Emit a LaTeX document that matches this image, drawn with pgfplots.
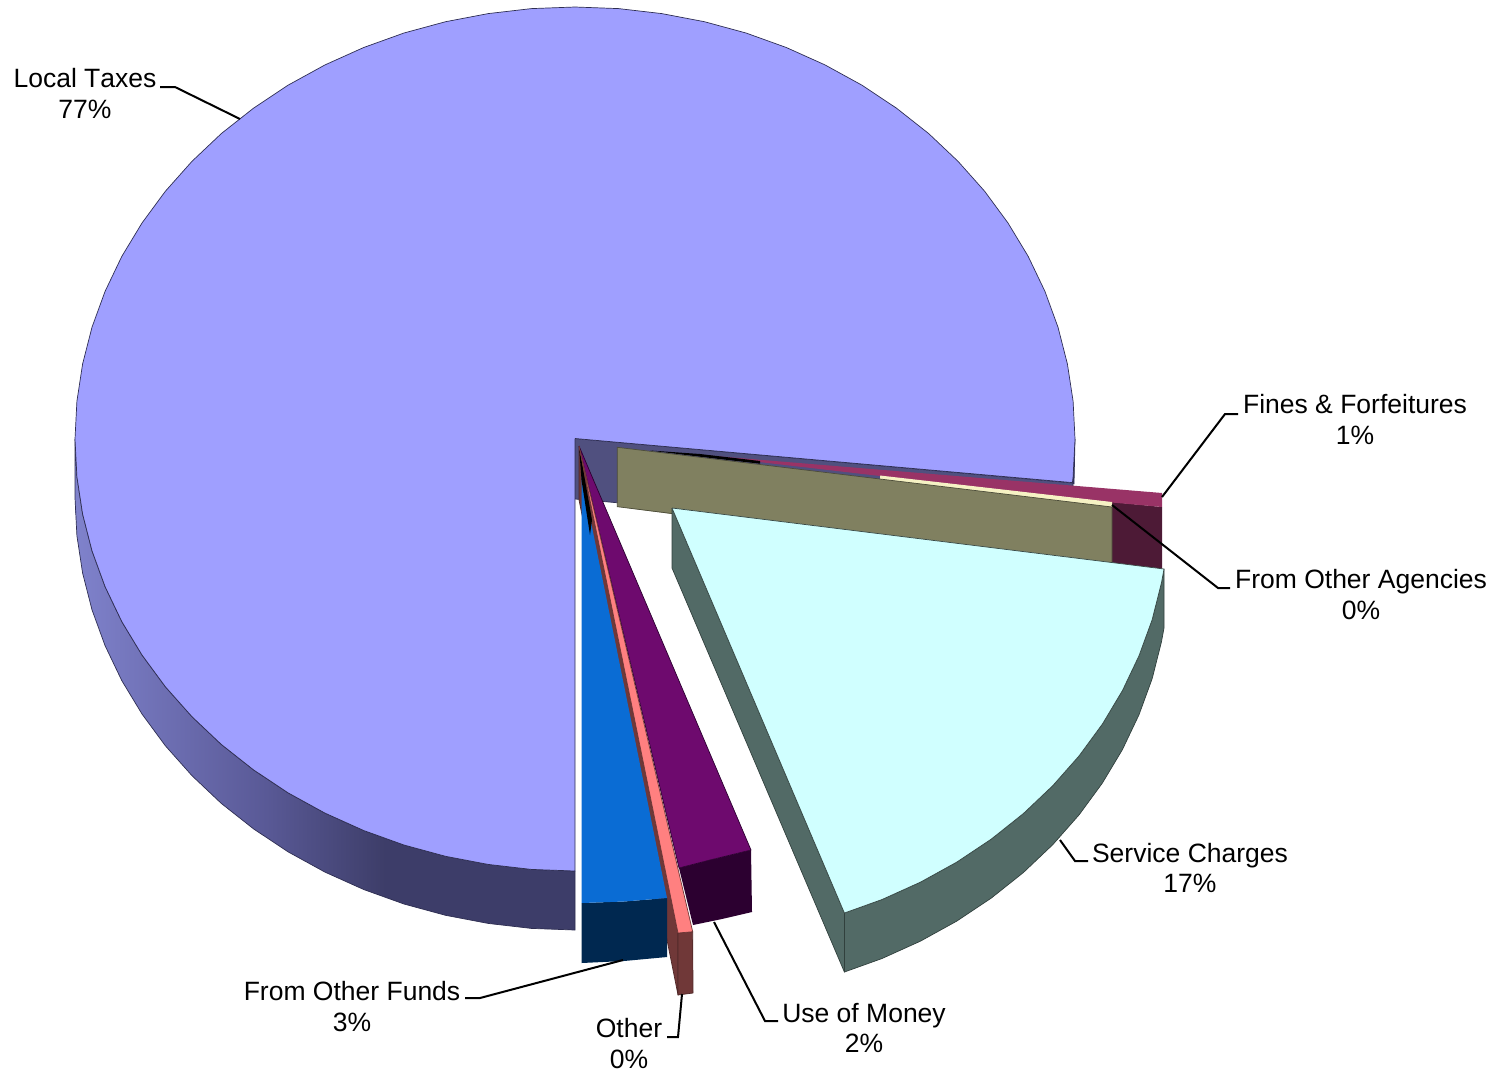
\documentclass[border=0pt]{standalone}
\usepackage{fontspec}
\setmainfont[Kerning=Off]{Liberation Sans}
\usepackage{pgfplots}
\pgfplotsset{compat=1.18}

\definecolor{taxtop}{HTML}{9F9FFF}
\definecolor{taxwall}{HTML}{50507F}
\definecolor{taxedge}{HTML}{2E2E52}
\definecolor{svctop}{HTML}{D0FFFF}
\definecolor{svcwall}{HTML}{526A66}
\definecolor{olive}{HTML}{808060}
\definecolor{finestop}{HTML}{993366}
\definecolor{fineswall}{HTML}{4D1A36}
\definecolor{cream}{HTML}{F6F2C4}
\definecolor{fundstop}{HTML}{0A6CD4}
\definecolor{fundswall}{HTML}{002850}
\definecolor{othertop}{HTML}{FF8080}
\definecolor{otherwall}{HTML}{703838}
\definecolor{moneytop}{HTML}{6E0A6E}
\definecolor{moneywall}{HTML}{2C0030}

\pgfdeclarehorizontalshading{taxside}{100bp}{
  rgb(0bp)=(.50,.51,.80); rgb(25bp)=(.50,.51,.80);
  rgb(44bp)=(.35,.35,.59); rgb(56bp)=(.24,.24,.41); rgb(100bp)=(.24,.24,.41)}

\tikzset{
  slice/.style={draw=#1, line width=0.35pt, line join=round},
  leader/.style={draw=black, line width=1pt, line join=miter},
  lab/.style={font=\fontsize{13.25}{15.3}\selectfont, align=center, anchor=center, inner sep=0pt},
}

\begin{document}
\begin{tikzpicture}
\useasboundingbox (0,0) rectangle (754pt,536pt);
\begin{axis}[
    at={(0,0)}, anchor=south west,
    scale only axis, width=754pt, height=536pt,
    xmin=0, xmax=1508, ymin=0, ymax=1072,
    y dir=reverse,
    hide axis, clip=false,
]

% Local Taxes: outer side
\addplot[shade, shading=taxside, slice=taxedge] coordinates {
(75,439)(76.9,476.7)(82.6,514)(92,550.8)(105.1,586.7)(121.8,621.6)(142,655)(165.4,686.8)
(192,716.7)(221.4,744.5)(253.6,769.9)(288.2,792.9)(325,813.1)(363.7,830.5)(404,845)
(445.6,856.3)(488.2,864.4)(531.4,869.4)(575,871)
(575,930)(531.4,928.4)(488.2,923.4)(445.6,915.3)(404,904)(363.7,889.5)(325,872.1)
(288.2,851.9)(253.6,828.9)(221.4,803.5)(192,775.7)(165.4,745.8)(142,714)(121.8,680.6)
(105.1,645.7)(92,609.8)(82.6,573)(76.9,535.7)(75,498)(75,439)};
\addplot[fill=taxwall!120!white, slice=taxedge] coordinates {
(1075,439)(1073.1,476.7)(1072.4,482.6)(1074,484)(1075,439)};
% Local Taxes: inner wall
\addplot[fill=taxwall, slice=taxedge] coordinates {
(575,438.5)(1073,483)(1073,543)(575,499)(575,438.5)};
% Local Taxes: top
\addplot[fill=taxtop, slice=taxedge] coordinates {
(575,438.5)(1072.4,482.6)(1073.1,476.7)(1075,439)(1073.1,401.3)(1067.4,364)(1058,327.2)
(1044.9,291.3)(1028.2,256.4)(1008,223)(984.6,191.2)(958,161.3)(928.6,133.5)(896.4,108.1)
(861.8,85.1)(825,64.9)(786.3,47.5)(746,33)(704.4,21.7)(661.8,13.6)(618.6,8.6)(575,7)
(531.4,8.6)(488.2,13.6)(445.6,21.7)(404,33)(363.7,47.5)(325,64.9)(288.2,85.1)(253.6,108.1)
(221.4,133.5)(192,161.3)(165.4,191.2)(142,223)(121.8,256.4)(105.1,291.3)(92,327.2)(82.6,364)
(76.9,401.3)(75,439)(76.9,476.7)(82.6,514)(92,550.8)(105.1,586.7)(121.8,621.6)(142,655)
(165.4,686.8)(192,716.7)(221.4,744.5)(253.6,769.9)(288.2,792.9)(325,813.1)(363.7,830.5)
(404,845)(445.6,856.3)(488.2,864.4)(531.4,869.4)(575,871)(575,438.5)};

% Fines & Forfeitures
\addplot[fill=fineswall, draw=none] coordinates {
(1112,502)(1162,507)(1162,571)(1112,565)(1112,502)};
\addplot[fill=finestop, draw=none] coordinates {
(690,454)(1162,493)(1162,507)(1112,502.5)(880,476)(690,454)};
\addplot[fill=black, draw=none] coordinates {
(650,450.5)(700,454)(760,461)(760,463.7)(700,456.7)(650,450.5)};
% From Other Agencies
\addplot[fill=cream, draw=none] coordinates {
(880,475.5)(1112,502)(1112,507.5)(880,480)(880,475.5)};
\addplot[fill=olive, draw=none] coordinates {
(617.3,447.3)(1112,507)(1112,565)(672,514)(617.3,506.7)(617.3,447.3)};
\addplot[draw=olive!60!black, line width=0.35pt] coordinates {
(1112,562)(1112,507)(617.3,447.3)(617.3,506.7)(672,513.5)};

% Service Charges
\addplot[fill=svcwall, slice=svcwall!60!black] coordinates {
(844.4,913)(882,899.5)(920.5,882.1)(957.1,861.9)(991.5,838.9)(1023.4,813.5)(1052.7,785.7)
(1079.1,755.8)(1102.4,724)(1122.4,690.6)(1139,655.7)(1152.1,619.8)(1161.4,583)(1164,569)
(1164,628)(1161.4,642)(1152.1,678.8)(1139,714.7)(1122.4,749.6)(1102.4,783)(1079.1,814.8)
(1052.7,844.7)(1023.4,872.5)(991.5,897.9)(957.1,920.9)(920.5,941.1)(882,958.5)(844.4,972)
(844.4,913)};
\addplot[fill=svcwall, slice=svcwall!60!black] coordinates {
(672,508)(844.4,913)(844.4,972)(672,568)(672,508)};
\addplot[fill=svctop, slice=svcwall!70!black] coordinates {
(672,508)(1164,569)(1161.4,583)(1152.1,619.8)(1139,655.7)(1122.4,690.6)(1102.4,724)
(1079.1,755.8)(1052.7,785.7)(1023.4,813.5)(991.5,838.9)(957.1,861.9)(920.5,882.1)(882,899.5)
(844.4,913)(672,508)};

% Other: left wall, under the neighbours
\addplot[fill=otherwall, slice=otherwall!70!black] coordinates {
(579,446)(678,933)(678,995)(579,500)(579,446)};
% From Other Funds
\addplot[fill=fundswall, draw=none] coordinates {
(581.5,903)(624,901.5)(667,898)(667,957)(624,961)(581.5,963)(581.5,903)};
\addplot[fill=fundstop, draw=none] coordinates {
(581.5,475)(667,898)(624,901.5)(581.5,903)(581.5,475)};
\addplot[fill=black, draw=none] coordinates {
(579,446)(592,520)(590,535)(581.5,480)(579,446)};
% Use of Money
\addplot[fill=moneywall, draw=none] coordinates {
(679,868)(710,860)(751,850)(752,912)(722,919)(693,925)(679,868)};
\addplot[fill=moneytop, slice=moneywall] coordinates {
(579,446)(751,850)(710,860)(679,868)(579,446)};
% Other
\addplot[fill=otherwall, slice=otherwall!70!black] coordinates {
(678,933)(692.7,931.7)(693,993)(678,995)(678,933)};
\addplot[fill=othertop, slice=otherwall] coordinates {
(579,446)(692.7,931.7)(678,933)(579,446)};

% leader lines
\addplot[leader] coordinates {(160,87)(175,87)(240,119)};
\addplot[leader] coordinates {(1238,414)(1225,414)(1162,497)};
\addplot[leader] coordinates {(1112,505)(1218,588)(1230,588)};
\addplot[leader] coordinates {(1060,840)(1075,861)(1088,861)};
\addplot[leader] coordinates {(714,922)(765,1021)(778,1021)};
\addplot[leader] coordinates {(682,994)(678,1037)(667,1037)};
\addplot[leader] coordinates {(623,960)(480,998)(465,998)};

\node[lab] at (axis cs:85,93.5) {Local Taxes\\77\%};
\node[lab] at (axis cs:1355,419.5) {Fines \& Forfeitures\\1\%};
\node[lab] at (axis cs:1361,594.5) {From Other Agencies\\0\%};
\node[lab] at (axis cs:1190,868) {Service Charges\\17\%};
\node[lab] at (axis cs:864,1028) {Use of Money\\2\%};
\node[lab] at (axis cs:629,1043.5) {Other\\0\%};
\node[lab] at (axis cs:352,1006.5) {From Other Funds\\3\%};

\end{axis}
\end{tikzpicture}
\end{document}
